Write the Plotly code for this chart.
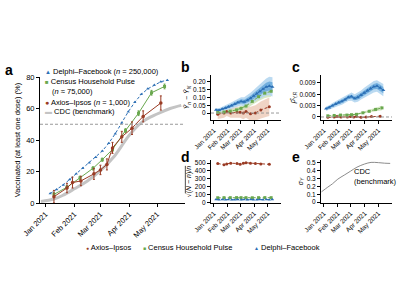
import plotly.graph_objects as go

# ---------------- data ----------------
month_ticks = ['2021-01-01', '2021-02-01', '2021-03-01', '2021-04-01', '2021-05-01']
month_labels = ['Jan 2021', 'Feb 2021', 'Mar 2021', 'Apr 2021', 'May 2021']

# CDC benchmark (panel a, %)
cdc_dates = ['2020-12-27', '2021-01-10', '2021-01-20', '2021-02-01', '2021-02-15', '2021-03-01',
             '2021-03-15', '2021-04-01', '2021-04-15', '2021-05-01', '2021-05-15', '2021-05-27']
cdc_pct = [1.0, 2.5, 5, 9, 14, 20.5, 29, 43, 51.5, 56.5, 60, 62]
# CDC sigma_Y (panel e)
cdc_sigma = [0.13, 0.19, 0.23, 0.29, 0.34, 0.39, 0.44, 0.48, 0.50, 0.497, 0.49, 0.487]

# Delphi-Facebook (weekly)
delphi_dates = ['2021-01-06', '2021-01-13', '2021-01-20', '2021-01-27', '2021-02-03', '2021-02-10',
                '2021-02-17', '2021-02-24', '2021-03-03', '2021-03-10', '2021-03-17', '2021-03-24',
                '2021-03-31', '2021-04-07', '2021-04-14', '2021-04-21', '2021-04-28', '2021-05-05',
                '2021-05-12']
delphi_pct = [6, 8.5, 11.5, 15, 18.5, 22, 25.5, 29, 33, 38, 44, 51, 58, 64, 69, 72.5, 75, 77, 78]
delphi_err = [0.020, 0.018, 0.026, 0.032, 0.040, 0.048, 0.058, 0.068, 0.075, 0.072, 0.082, 0.095,
              0.110, 0.125, 0.140, 0.155, 0.168, 0.174, 0.168]
delphi_err_in = [0.006, 0.006, 0.007, 0.008, 0.009, 0.010, 0.011, 0.012, 0.013, 0.014, 0.015, 0.017,
                 0.019, 0.021, 0.023, 0.025, 0.027, 0.029, 0.030]
delphi_err_out = [0.012, 0.013, 0.015, 0.017, 0.019, 0.021, 0.023, 0.025, 0.027, 0.029, 0.032, 0.035,
                  0.039, 0.043, 0.047, 0.051, 0.055, 0.059, 0.062]
delphi_rho = [0.0022, 0.0025, 0.0030, 0.0034, 0.0038, 0.0041, 0.0046, 0.0052, 0.0054, 0.0049, 0.0052,
              0.0058, 0.0064, 0.0070, 0.0075, 0.0080, 0.0082, 0.0077, 0.0071]
delphi_rho_in = [0.0003, 0.0003, 0.0003, 0.0004, 0.0004, 0.0004, 0.0005, 0.0005, 0.0005, 0.0005, 0.0006,
                 0.0006, 0.0006, 0.0007, 0.0007, 0.0007, 0.0008, 0.0008, 0.0008]
delphi_rho_out = [0.0006, 0.0006, 0.0007, 0.0008, 0.0008, 0.0009, 0.0010, 0.0010, 0.0011, 0.0011, 0.0012,
                  0.0012, 0.0013, 0.0013, 0.0014, 0.0015, 0.0015, 0.0016, 0.0016]
delphi_sz = [34, 33, 34, 33, 34, 33, 33, 34, 33, 34, 33, 34, 33, 33, 34, 33, 34, 33, 34]

# Census Household Pulse (biweekly)
census_dates = ['2021-01-10', '2021-01-24', '2021-02-07', '2021-02-21', '2021-03-03', '2021-03-14',
                '2021-03-28', '2021-04-11', '2021-04-25', '2021-05-09']
census_pct = [5.5, 10, 16, 22, 27.5, 34, 46, 57, 70, 74]
census_pct_ci = [1, 1, 1, 1, 1, 1.2, 1.2, 1.5, 1.5, 1.5]
census_err = [0.003, 0.006, 0.012, 0.020, 0.030, 0.045, 0.075, 0.105, 0.128, 0.140]
census_err_hw = [0.008, 0.009, 0.010, 0.012, 0.014, 0.017, 0.022, 0.027, 0.032, 0.035]
census_rho = [0.0003, 0.0004, 0.0005, 0.0005, 0.0006, 0.0007, 0.0011, 0.0015, 0.0020, 0.0024]
census_rho_hw = [0.0001, 0.0001, 0.0001, 0.0002, 0.0002, 0.0002, 0.0003, 0.0004, 0.0005, 0.0006]
census_sz = [57, 58, 58, 59, 58, 58, 57, 58, 59, 58]

# Axios-Ipsos
axios_dates = ['2021-01-10', '2021-01-24', '2021-01-30', '2021-02-08', '2021-02-22', '2021-03-01',
               '2021-03-08', '2021-03-14', '2021-03-24', '2021-04-04', '2021-04-16', '2021-05-05']
axios_pct = [4, 9.5, 13, 14, 18.5, 21, 24.5, 35, 42, 47.5, 55, 63.5]
axios_pct_ci = [4, 3, 3.5, 3, 3.5, 3, 3.5, 3.5, 3.5, 4, 3.5, 4.5]
axios_err = [-0.008, 0.0, 0.010, 0.0, 0.005, 0.005, 0.0, 0.010, -0.005, 0.0, 0.020, 0.040]
axios_err_hw = [0.030, 0.030, 0.030, 0.030, 0.035, 0.035, 0.040, 0.040, 0.045, 0.050, 0.055, 0.060]
axios_rho = [-0.0001, 0.0, 0.0001, 0.0, 0.0, 0.0001, 0.0, 0.0001, -0.0001, 0.0, 0.0001, 0.0002]
axios_rho_hw = [0.0001, 0.0001, 0.0001, 0.0001, 0.0001, 0.0001, 0.0001, 0.0001, 0.0001, 0.0001, 0.0001, 0.0001]
axios_sz = [495, 480, 490, 500, 495, 485, 500, 505, 500, 495, 490, 485]

# ---------------- styles ----------------
BLUE = '#2c6fb5'
BLUE_IN = '#6aaadc'
BLUE_OUT = '#b4d6ef'
GREEN = '#6aa84f'
GREEN_BAND = '#cfe4b8'
BROWN = '#9a3b24'
BROWN_BAND = '#ecc9b6'
GRAY = '#c4c4c4'
FONT = 'Liberation Sans, Arial, sans-serif'

W, H = 400, 300
def px(x):
    return x / W
def py(y):
    return 1 - y / H

fig = go.Figure()

def band(x, y, hw, color, xa, ya, opacity=1.0):
    up = [v + h for v, h in zip(y, hw)]
    lo = [v - h for v, h in zip(y, hw)]
    fig.add_trace(go.Scatter(x=list(x) + list(x)[::-1], y=up + lo[::-1], fill='toself',
                             fillcolor=color, line=dict(width=0), mode='lines', opacity=opacity,
                             xaxis=xa, yaxis=ya, hoverinfo='skip', showlegend=False))

# ---- panel a ----
fig.add_trace(go.Scatter(x=cdc_dates, y=cdc_pct, mode='lines', line=dict(color=GRAY, width=3, shape='spline'),
                         xaxis='x', yaxis='y', showlegend=False))
fig.add_trace(go.Scatter(x=delphi_dates, y=delphi_pct, mode='lines+markers',
                         line=dict(color=BLUE, width=1, dash='3px,2px'),
                         marker=dict(symbol='triangle-up', size=3, color=BLUE),
                         xaxis='x', yaxis='y', showlegend=False))
fig.add_trace(go.Scatter(x=census_dates, y=census_pct, mode='lines+markers',
                         line=dict(color=GREEN, width=1),
                         marker=dict(symbol='square', size=3, color=GREEN),
                         error_y=dict(type='data', array=census_pct_ci, color=GREEN, thickness=1, width=1),
                         xaxis='x', yaxis='y', showlegend=False))
fig.add_trace(go.Scatter(x=axios_dates, y=axios_pct, mode='lines+markers',
                         line=dict(color=BROWN, width=1),
                         marker=dict(symbol='circle', size=3.5, color=BROWN),
                         error_y=dict(type='data', array=axios_pct_ci, color=BROWN, thickness=1, width=1),
                         xaxis='x', yaxis='y', showlegend=False))

# ---- panel b ----
band(axios_dates, axios_err, axios_err_hw, BROWN_BAND, 'x2', 'y2', 0.8)
band(census_dates, census_err, census_err_hw, GREEN_BAND, 'x2', 'y2', 0.85)
band(delphi_dates, delphi_err, delphi_err_out, BLUE_OUT, 'x2', 'y2', 0.9)
band(delphi_dates, delphi_err, delphi_err_in, BLUE_IN, 'x2', 'y2', 0.9)
fig.add_trace(go.Scatter(x=axios_dates, y=axios_err, mode='lines+markers',
                         line=dict(color=BROWN, width=1, dash='3px,2px'),
                         marker=dict(symbol='circle', size=3, color=BROWN), xaxis='x2', yaxis='y2', showlegend=False))
fig.add_trace(go.Scatter(x=census_dates, y=census_err, mode='lines+markers',
                         line=dict(color=GREEN, width=1, dash='3px,2px'),
                         marker=dict(symbol='square', size=3, color=GREEN), xaxis='x2', yaxis='y2', showlegend=False))
fig.add_trace(go.Scatter(x=delphi_dates, y=delphi_err, mode='lines+markers',
                         line=dict(color=BLUE, width=1),
                         marker=dict(symbol='triangle-up', size=3.5, color=BLUE), xaxis='x2', yaxis='y2', showlegend=False))

# ---- panel c ----
band(axios_dates, axios_rho, axios_rho_hw, BROWN_BAND, 'x3', 'y3', 0.8)
band(census_dates, census_rho, census_rho_hw, GREEN_BAND, 'x3', 'y3', 0.85)
band(delphi_dates, delphi_rho, delphi_rho_out, BLUE_OUT, 'x3', 'y3', 0.9)
band(delphi_dates, delphi_rho, delphi_rho_in, BLUE_IN, 'x3', 'y3', 0.9)
fig.add_trace(go.Scatter(x=axios_dates, y=axios_rho, mode='lines+markers',
                         line=dict(color=BROWN, width=1, dash='3px,2px'),
                         marker=dict(symbol='circle', size=3, color=BROWN), xaxis='x3', yaxis='y3', showlegend=False))
fig.add_trace(go.Scatter(x=census_dates, y=census_rho, mode='lines+markers',
                         line=dict(color=GREEN, width=1, dash='3px,2px'),
                         marker=dict(symbol='square', size=3, color=GREEN), xaxis='x3', yaxis='y3', showlegend=False))
fig.add_trace(go.Scatter(x=delphi_dates, y=delphi_rho, mode='lines+markers',
                         line=dict(color=BLUE, width=1),
                         marker=dict(symbol='triangle-up', size=3.5, color=BLUE), xaxis='x3', yaxis='y3', showlegend=False))

# ---- panel d ----
fig.add_trace(go.Scatter(x=axios_dates, y=axios_sz, mode='lines+markers',
                         line=dict(color=BROWN, width=1, dash='3px,2px'),
                         marker=dict(symbol='circle', size=3, color=BROWN), xaxis='x4', yaxis='y4', showlegend=False))
fig.add_trace(go.Scatter(x=census_dates, y=census_sz, mode='lines+markers',
                         line=dict(color=GREEN, width=1, dash='3px,2px'),
                         marker=dict(symbol='square', size=3, color=GREEN), xaxis='x4', yaxis='y4', showlegend=False))
fig.add_trace(go.Scatter(x=delphi_dates, y=delphi_sz, mode='lines+markers',
                         line=dict(color=BLUE, width=1, dash='3px,2px'),
                         marker=dict(symbol='triangle-up', size=3, color=BLUE), xaxis='x4', yaxis='y4', showlegend=False))

# ---- panel e ----
fig.add_trace(go.Scatter(x=cdc_dates, y=cdc_sigma, mode='lines', line=dict(color='#8c8c8c', width=1, shape='spline'),
                         xaxis='x5', yaxis='y5', showlegend=False))

# ---------------- axes ----------------
xrange_ = ['2020-12-26', '2021-05-31']

def xax(domain, anchor, fs):
    return dict(domain=domain, anchor=anchor, type='date', range=xrange_, automargin=False,
                tickvals=month_ticks, ticktext=month_labels, tickangle=-45,
                showline=True, linecolor='black', linewidth=1, ticks='outside', ticklen=3,
                tickcolor='black', showgrid=False, zeroline=False,
                tickfont=dict(size=fs, color='black', family=FONT))

def yax(domain, anchor, rng, tv, tt, title, fs=7, tfs=7, standoff=2):
    return dict(domain=domain, anchor=anchor, range=rng, tickvals=tv, ticktext=tt, automargin=False,
                showline=True, linecolor='black', linewidth=1, ticks='outside', ticklen=3,
                tickcolor='black', showgrid=False, zeroline=False,
                tickfont=dict(size=fs, color='black', family=FONT),
                title=dict(text=title, font=dict(size=tfs, color='black', family=FONT), standoff=standoff))

xa_b = [px(211), px(281)]
xa_c = [px(321), px(392)]
ya_top = [py(120), py(75)]
ya_bot = [py(203), py(160)]

fig.update_layout(
    xaxis=xax([px(40), px(185)], 'y', 7.5),
    yaxis=yax([py(203), py(77)], 'x', [0, 80], [0, 20, 40, 60, 80], ['0', '20', '40', '60', '80'],
              'Vaccinated (at least one dose) (%)', fs=7.5, tfs=7.5, standoff=4),
    xaxis2=xax(xa_b, 'y2', 6.5),
    yaxis2=yax(ya_top, 'x2', [-0.045, 0.245], [0, 0.05, 0.10, 0.15, 0.20], ['0', '0.05', '0.10', '0.15', '0.20'],
               '<i>Ȳ</i><sub><i>n</i></sub> − <i>Ȳ</i><sub><i>N</i></sub>', fs=6.5),
    xaxis3=xax(xa_c, 'y3', 6.5),
    yaxis3=yax(ya_top, 'x3', [-0.0008, 0.0111], [0, 0.003, 0.006, 0.009], ['0', '0.003', '0.006', '0.009'],
               '<i>ρ̂</i><sub><i>Y,R</i></sub>', fs=6.5),
    xaxis4=xax(xa_b, 'y4', 6.5),
    yaxis4=yax(ya_bot, 'x4', [-10, 540], [0, 100, 200, 300, 400, 500], ['0', '100', '200', '300', '400', '500'],
               '√<span style="text-decoration:overline">(<i>N</i> − <i>n</i>)/<i>n</i></span>', fs=6.5),
    xaxis5=xax(xa_c, 'y5', 6.5),
    yaxis5=yax(ya_bot, 'x5', [-0.01, 0.53], [0, 0.1, 0.2, 0.3, 0.4, 0.5], ['0', '0.1', '0.2', '0.3', '0.4', '0.5'],
               '<i>σ</i><sub><i>Y</i></sub>', fs=6.5),
    width=W, height=H, margin=dict(l=0, r=0, t=0, b=0, autoexpand=False),
    paper_bgcolor='white', plot_bgcolor='white', showlegend=False,
    font=dict(family=FONT, color='black'),
)

# reference lines
fig.add_shape(type='line', xref='x domain', yref='y', x0=0, x1=1, y0=50, y1=50,
              line=dict(color='#999999', width=1, dash='3px,2px'))
fig.add_shape(type='line', xref='x2 domain', yref='y2', x0=0, x1=1, y0=0, y1=0,
              line=dict(color='#999999', width=1, dash='3px,2px'))
fig.add_shape(type='line', xref='x3 domain', yref='y3', x0=0, x1=1, y0=0, y1=0,
              line=dict(color='#999999', width=1, dash='3px,2px'))

# ---------------- annotations ----------------
def ann(x, y, text, size=7.5, xanchor='left', yanchor='middle'):
    fig.add_annotation(x=px(x), y=py(y), xref='paper', yref='paper', text=text, showarrow=False,
                       xanchor=xanchor, yanchor=yanchor, align='left',
                       font=dict(size=size, color='black', family=FONT))

# panel letters
for lx, ly, lt in [(9, 70, 'a'), (185, 67, 'b'), (296, 67, 'c'), (185, 157, 'd'), (296, 157, 'e')]:
    ann(lx, ly, '<b>%s</b>' % lt, size=14, xanchor='center')

# panel a legend
mk = '<span style="color:%s;font-size:%spx">%s</span>'
ann(43, 71, mk % (BLUE, 6, '▲') + ' Delphi–Facebook (<i>n</i> = 250,000)')
ann(43, 81, mk % (GREEN, 6, '■') + ' Census Household Pulse')
ann(50, 91, '(<i>n</i> ≈ 75,000)')
ann(43, 102, mk % (BROWN, 7, '●') + ' Axios–Ipsos (<i>n</i> = 1,000)')
ann(43, 112, mk % (GRAY, 7, '▬') + ' CDC (benchmark)')

# panel e annotation
ann(352, 165, 'CDC<br>(benchmark)', size=7.5, yanchor='top')

# bottom legend
ann(84, 247, mk % (BROWN, 5, '●') + ' Axios–Ipsos')
ann(141, 247, mk % (GREEN, 5, '■') + ' Census Household Pulse')
ann(252, 247, mk % (BLUE, 5, '▲') + ' Delphi–Facebook')

fig.write_html('out.html', config={'displayModeBar': False},
               post_script="document.body.style.margin='0';document.body.style.padding='0';")
